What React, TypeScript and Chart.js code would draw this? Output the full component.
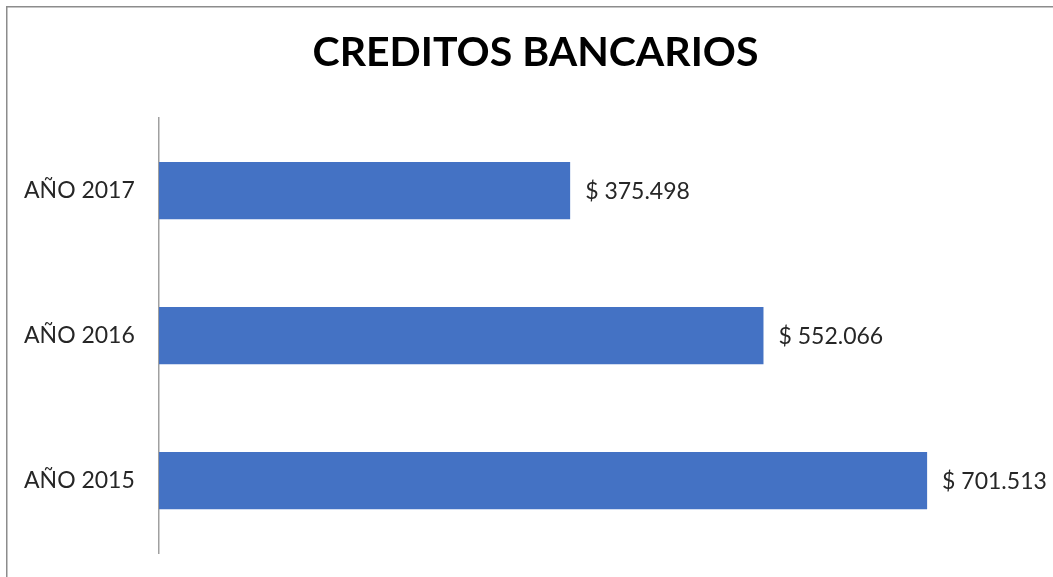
import React, { useEffect, useRef } from "react";
import { Chart, registerables } from "chart.js";

Chart.register(...registerables);

const TITLE = "CREDITOS BANCARIOS";
const categories = ["AÑO 2017", "AÑO 2016", "AÑO 2015"];
const values = [375498, 552066, 701513];
const xMax = 811000;

const FONT = "Lato, 'Open Sans', sans-serif";
const BAR_COLOR = "#4472C4";
const TEXT_COLOR = "#262626";

function formatMoney(v: number): string {
  const s = String(Math.round(v));
  const parts: string[] = [];
  for (let i = s.length; i > 0; i -= 3) parts.unshift(s.slice(Math.max(0, i - 3), i));
  return "$ " + parts.join(".");
}

const framePlugin = {
  id: "frame",
  beforeDraw(chart: any) {
    const { ctx, width, height } = chart;
    ctx.save();
    ctx.fillStyle = "#ffffff";
    ctx.fillRect(0, 0, width, height);
    ctx.strokeStyle = "#8c8c8c";
    ctx.lineWidth = 1.5;
    ctx.beginPath();
    ctx.moveTo(6.75, height + 5);
    ctx.lineTo(6.75, 6.75);
    ctx.lineTo(width + 5, 6.75);
    ctx.stroke();
    ctx.restore();
  },
};

const valueLabelPlugin = {
  id: "valueLabels",
  afterDatasetsDraw(chart: any) {
    const { ctx } = chart;
    const meta = chart.getDatasetMeta(0);
    ctx.save();
    ctx.font = `23px ${FONT}`;
    ctx.fillStyle = TEXT_COLOR;
    ctx.textAlign = "left";
    ctx.textBaseline = "middle";
    meta.data.forEach((bar: any, i: number) => {
      const v = chart.data.datasets[0].data[i] as number;
      ctx.fillText(formatMoney(v), bar.x + 15, bar.y + 1);
    });
    ctx.restore();
  },
};

export default function App() {
  const ref = useRef<HTMLCanvasElement>(null);
  useEffect(() => {
    if (!ref.current) return;
    const chart = new Chart(ref.current, {
      type: "bar",
      data: {
        labels: categories,
        datasets: [
          {
            data: values,
            backgroundColor: BAR_COLOR,
            borderWidth: 0,
            categoryPercentage: 1,
            barPercentage: 0.395,
          },
        ],
      },
      options: {
        indexAxis: "y",
        responsive: false,
        animation: false,
        layout: { padding: { left: 24, right: 6, top: 6, bottom: 24 } },
        plugins: {
          legend: { display: false },
          tooltip: { enabled: false },
          title: {
            display: true,
            text: TITLE,
            color: "#000000",
            font: { family: FONT, size: 41, weight: "bold", lineHeight: 1.2 },
            padding: { top: 22, bottom: 41 },
          },
        },
        scales: {
          x: {
            display: false,
            min: 0,
            max: xMax,
          },
          y: {
            afterFit(scale: any) {
              scale.width = 135;
            },
            grid: { display: false, drawTicks: false },
            border: { display: true, color: "#a0a0a0", width: 1.5 },
            ticks: {
              color: TEXT_COLOR,
              padding: 0,
              crossAlign: "far",
              font: { family: FONT, size: 23 },
            },
          },
        },
      },
      plugins: [framePlugin, valueLabelPlugin],
    });
    return () => chart.destroy();
  }, []);
  return (
    <div style={{ position: "fixed", left: 0, top: 0, width: 1053, height: 577, background: "#fff" }}>
      <canvas ref={ref} width={1053} height={577} style={{ display: "block" }} />
    </div>
  );
}
